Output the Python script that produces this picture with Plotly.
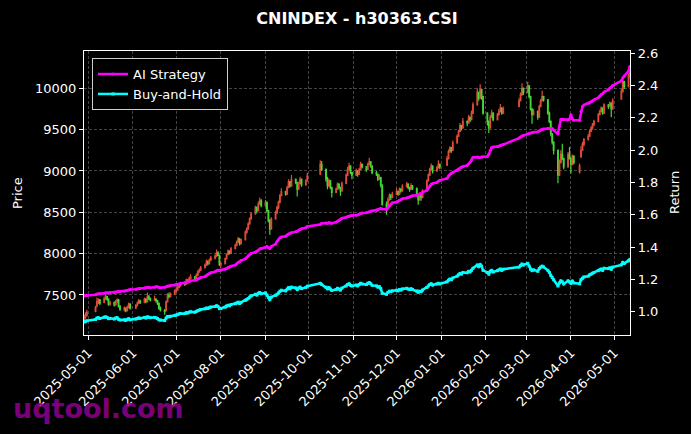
import pandas as pd
import plotly.graph_objects as go

# ---------------- data ----------------
start_date = "2025-04-28"
end_date = "2026-05-12"
holidays = ["2025-05-01", "2025-05-02", "2025-05-05", "2025-06-02",
            "2025-10-01", "2025-10-02", "2025-10-03", "2025-10-06", "2025-10-07", "2025-10-08",
            "2026-01-01", "2026-01-02",
            "2026-02-16", "2026-02-17", "2026-02-18", "2026-02-19", "2026-02-20", "2026-02-23",
            "2026-04-06", "2026-05-01", "2026-05-04", "2026-05-05"]

open_ = [
    7200, 7230, 7250,
    7300, 7370, 7410, 7440, 7410, 7470, 7480, 7450, 7390, 7410, 7380, 7420, 7440, 7360, 7330, 7340, 7310, 7350, 7390,
    7340, 7370, 7400, 7430, 7410, 7450, 7420, 7480, 7460, 7440, 7450, 7430, 7400, 7340, 7310, 7310, 7420, 7500, 7480, 7510,
    7550, 7560, 7590, 7620, 7640, 7630, 7680, 7660, 7700, 7720, 7700, 7740, 7780, 7800, 7830, 7860, 7900, 7880, 7920, 7950, 7970, 8010, 7980,
    7870, 7880, 7940, 7990, 8030, 8010, 8060, 8100, 8140, 8180, 8120, 8170, 8260, 8300, 8360, 8420, 8480, 8560, 8520, 8600, 8640,
    8580, 8620, 8520, 8400, 8300, 8420, 8500, 8560, 8620, 8700, 8750, 8720, 8800, 8870, 8820, 8900, 8860, 8780, 8850, 8900, 8830, 8880,
    8960, 9080, 9020, 8900, 8820, 8880, 8800, 8740, 8780, 8840, 8800, 8760, 8850, 8950, 9020, 9060, 8980,
    8950, 9000, 8960, 9020, 9080, 9050, 9020, 9080, 9110, 9060, 8980, 8960, 8900, 8920, 8830, 8600, 8560, 8650, 8700, 8680,
    8720, 8750, 8720, 8780, 8760, 8810, 8840, 8800, 8780, 8820, 8790, 8720, 8650, 8700, 8680, 8760, 8880, 8950, 9020, 9060, 9000, 9040, 9080,
    9070, 9150, 9230, 9280, 9250, 9340, 9420, 9480, 9550, 9520, 9600, 9580, 9650, 9620, 9700, 9800, 9950, 9880, 9980, 9900,
    9700, 9600, 9520, 9650, 9700, 9620, 9680, 9720, 9760, 9700, 9780, 9850, 9920, 10000,
    9950, 10030, 9900, 9750, 9680, 9720, 9650, 9780, 9850, 9900, 9860, 9700, 9600, 9450, 9350, 9250, 8950, 9100, 9200, 9150, 9050, 9200,
    9150, 9080, 9180, 8990, 9170, 9250, 9320, 9380, 9420, 9480, 9520, 9560, 9600, 9680, 9720, 9760, 9700, 9800, 9780, 9820, 9750,
    9870, 9960, 10080, 10020, 10150,
]
high = [
    7260, 7290, 7320,
    7370, 7470, 7460, 7450, 7480, 7500, 7490, 7460, 7430, 7420, 7440, 7460, 7450, 7380, 7360, 7350, 7370, 7410, 7400,
    7390, 7420, 7450, 7440, 7470, 7460, 7530, 7500, 7470, 7490, 7460, 7440, 7410, 7360, 7330, 7430, 7520, 7530, 7530, 7570,
    7590, 7610, 7640, 7660, 7660, 7700, 7690, 7720, 7750, 7730, 7760, 7800, 7820, 7850, 7880, 7930, 7920, 7940, 7970, 7990, 8050, 8030, 7990,
    7900, 7950, 8000, 8050, 8040, 8080, 8120, 8160, 8200, 8190, 8180, 8280, 8320, 8380, 8440, 8500, 8580, 8570, 8630, 8680, 8660,
    8650, 8630, 8530, 8420, 8440, 8520, 8580, 8640, 8720, 8790, 8760, 8820, 8900, 8880, 8950, 8910, 8870, 8870, 8930, 8910, 8900, 8980,
    9130, 9120, 9030, 8930, 8910, 8890, 8810, 8800, 8860, 8850, 8810, 8870, 8970, 9050, 9100, 9070, 8990,
    9030, 9010, 9040, 9110, 9090, 9060, 9100, 9160, 9120, 9070, 9000, 8970, 8960, 8930, 8840, 8630, 8680, 8730, 8720, 8750,
    8790, 8760, 8800, 8790, 8840, 8870, 8850, 8810, 8850, 8830, 8800, 8730, 8720, 8710, 8780, 8900, 8970, 9040, 9090, 9070, 9060, 9130, 9090,
    9180, 9260, 9300, 9290, 9370, 9440, 9500, 9580, 9560, 9640, 9610, 9680, 9660, 9730, 9830, 10000, 9960, 10050, 9990, 9910,
    9710, 9610, 9680, 9740, 9710, 9700, 9750, 9810, 9770, 9780, 9880, 9950, 10060, 10010,
    10080, 10040, 9910, 9760, 9750, 9730, 9800, 9870, 9970, 9910, 9870, 9720, 9610, 9460, 9360, 9260, 9140, 9250, 9330, 9160, 9230, 9290,
    9160, 9200, 9190, 9090, 9300, 9350, 9400, 9450, 9500, 9540, 9580, 9620, 9700, 9740, 9780, 9770, 9820, 9810, 9840, 9830, 9880,
    9990, 10100, 10090, 10180, 10260,
]
low = [
    7170, 7210, 7240,
    7290, 7350, 7390, 7380, 7400, 7440, 7430, 7370, 7370, 7360, 7370, 7400, 7350, 7310, 7300, 7290, 7300, 7340, 7320,
    7330, 7360, 7390, 7390, 7400, 7400, 7410, 7440, 7420, 7430, 7410, 7380, 7320, 7300, 7260, 7300, 7410, 7460, 7470, 7500,
    7530, 7550, 7580, 7600, 7610, 7620, 7640, 7650, 7690, 7680, 7690, 7730, 7770, 7790, 7820, 7850, 7860, 7870, 7910, 7930, 7960, 7970, 7850,
    7830, 7870, 7930, 7980, 7990, 8000, 8050, 8090, 8130, 8100, 8110, 8160, 8240, 8290, 8350, 8410, 8470, 8490, 8510, 8590, 8560,
    8570, 8500, 8380, 8230, 8290, 8410, 8480, 8540, 8610, 8690, 8700, 8710, 8790, 8800, 8810, 8840, 8690, 8770, 8840, 8810, 8820, 8870,
    8950, 9000, 8870, 8780, 8810, 8780, 8680, 8730, 8770, 8780, 8700, 8750, 8840, 8940, 9010, 8960, 8900,
    8940, 8930, 8950, 9010, 9030, 8990, 9010, 9070, 9040, 8960, 8940, 8880, 8890, 8800, 8580, 8470, 8550, 8640, 8650, 8670,
    8710, 8700, 8710, 8740, 8750, 8800, 8780, 8750, 8770, 8770, 8700, 8590, 8640, 8640, 8670, 8750, 8870, 8940, 9010, 8970, 8990, 9030, 9020,
    9060, 9140, 9220, 9220, 9240, 9330, 9410, 9470, 9490, 9510, 9540, 9570, 9590, 9610, 9690, 9790, 9850, 9870, 9860, 9680,
    9550, 9460, 9510, 9640, 9600, 9610, 9670, 9710, 9680, 9690, 9770, 9840, 9910, 9920,
    9940, 9880, 9730, 9570, 9670, 9620, 9640, 9770, 9840, 9840, 9680, 9580, 9420, 9320, 9200, 8850, 8940, 9090, 9130, 9020, 9040, 9140,
    8970, 9070, 9080, 8970, 9160, 9240, 9300, 9370, 9410, 9470, 9500, 9540, 9590, 9670, 9710, 9680, 9690, 9750, 9770, 9650, 9740,
    9860, 9950, 9990, 10010, 10120,
]
close = [
    7230, 7260, 7290,
    7350, 7420, 7440, 7400, 7460, 7480, 7450, 7390, 7410, 7380, 7420, 7440, 7360, 7330, 7340, 7310, 7350, 7390, 7340,
    7370, 7400, 7430, 7410, 7450, 7420, 7480, 7460, 7440, 7450, 7430, 7400, 7340, 7320, 7300, 7420, 7500, 7480, 7510, 7550,
    7560, 7590, 7620, 7640, 7630, 7680, 7660, 7700, 7720, 7700, 7740, 7780, 7800, 7830, 7860, 7900, 7880, 7920, 7950, 7970, 8010, 7980, 7870,
    7880, 7940, 7990, 8030, 8010, 8060, 8100, 8140, 8180, 8120, 8170, 8260, 8300, 8360, 8420, 8480, 8560, 8520, 8600, 8640, 8580,
    8620, 8520, 8400, 8300, 8420, 8500, 8560, 8620, 8700, 8750, 8720, 8800, 8870, 8820, 8900, 8860, 8780, 8850, 8900, 8830, 8880, 8940,
    9080, 9020, 8900, 8820, 8880, 8800, 8740, 8780, 8840, 8800, 8760, 8850, 8950, 9020, 9060, 8980, 8950,
    9000, 8960, 9020, 9080, 9050, 9020, 9080, 9110, 9060, 8980, 8960, 8900, 8920, 8830, 8600, 8560, 8650, 8700, 8680, 8720,
    8750, 8720, 8780, 8760, 8810, 8840, 8800, 8780, 8820, 8790, 8720, 8650, 8700, 8680, 8760, 8880, 8950, 9020, 9060, 9000, 9040, 9080, 9050,
    9150, 9230, 9280, 9250, 9340, 9420, 9480, 9550, 9520, 9600, 9580, 9650, 9620, 9700, 9800, 9950, 9880, 9980, 9900, 9700,
    9600, 9520, 9650, 9700, 9620, 9680, 9720, 9760, 9700, 9750, 9850, 9920, 10000, 9950,
    10030, 9900, 9750, 9680, 9720, 9650, 9780, 9850, 9900, 9860, 9700, 9600, 9450, 9350, 9250, 8950, 9100, 9200, 9150, 9050, 9200, 9150,
    9080, 9180, 9100, 9060, 9250, 9320, 9380, 9420, 9480, 9520, 9560, 9600, 9680, 9720, 9760, 9700, 9800, 9780, 9820, 9750, 9850,
    9960, 10080, 10020, 10150, 10220,
]
ai_strategy = [
    1.098, 1.100, 1.102,
    1.106, 1.110, 1.112, 1.112, 1.115, 1.118, 1.118, 1.116, 1.118, 1.120, 1.122, 1.125, 1.124, 1.125, 1.128, 1.130, 1.132, 1.136, 1.138,
    1.140, 1.142, 1.145, 1.145, 1.148, 1.150, 1.152, 1.152, 1.150, 1.153, 1.155, 1.155, 1.152, 1.150, 1.152, 1.156, 1.160, 1.160, 1.163, 1.166,
    1.168, 1.170, 1.173, 1.176, 1.178, 1.182, 1.185, 1.188, 1.192, 1.195, 1.198, 1.203, 1.208, 1.212, 1.218, 1.225, 1.232, 1.238, 1.242, 1.248, 1.255, 1.258, 1.256,
    1.258, 1.263, 1.268, 1.274, 1.278, 1.283, 1.290, 1.298, 1.305, 1.310, 1.318, 1.328, 1.338, 1.348, 1.355, 1.362, 1.370, 1.375, 1.382, 1.390, 1.392,
    1.400, 1.405, 1.398, 1.392, 1.405, 1.420, 1.435, 1.448, 1.458, 1.463, 1.468, 1.475, 1.482, 1.486, 1.490, 1.495, 1.498, 1.505, 1.510, 1.515, 1.520, 1.528,
    1.540, 1.548, 1.550, 1.548, 1.552, 1.550, 1.548, 1.555, 1.560, 1.565, 1.572, 1.580, 1.585, 1.590, 1.592, 1.595, 1.596,
    1.598, 1.600, 1.604, 1.608, 1.612, 1.614, 1.616, 1.620, 1.622, 1.625, 1.628, 1.632, 1.636, 1.640, 1.636, 1.634, 1.645, 1.658, 1.666, 1.675,
    1.680, 1.684, 1.690, 1.694, 1.700, 1.705, 1.708, 1.710, 1.714, 1.718, 1.722, 1.726, 1.730, 1.733, 1.740, 1.752, 1.765, 1.778, 1.790, 1.795, 1.800, 1.808, 1.814,
    1.826, 1.840, 1.850, 1.857, 1.862, 1.875, 1.882, 1.890, 1.895, 1.900, 1.906, 1.915, 1.925, 1.940, 1.955, 1.958, 1.955, 1.957, 1.958, 1.960,
    1.962, 1.975, 2.000, 2.017, 2.020, 2.022, 2.025, 2.030, 2.032, 2.035, 2.075, 2.082, 2.088, 2.092,
    2.100, 2.104, 2.106, 2.108, 2.112, 2.115, 2.120, 2.125, 2.130, 2.132, 2.134, 2.134, 2.133, 2.134, 2.125, 2.100, 2.150, 2.190, 2.192, 2.190, 2.188, 2.192,
    2.220, 2.195, 2.185, 2.185, 2.240, 2.270, 2.280, 2.290, 2.292, 2.300, 2.305, 2.312, 2.325, 2.335, 2.345, 2.350, 2.360, 2.375, 2.385, 2.388, 2.400,
    2.430, 2.448, 2.460, 2.490, 2.520,
]
buy_and_hold = [
    0.937, 0.941, 0.945,
    0.953, 0.962, 0.964, 0.959, 0.967, 0.969, 0.966, 0.958, 0.960, 0.956, 0.962, 0.964, 0.954, 0.950, 0.951, 0.947, 0.953, 0.958, 0.951,
    0.955, 0.959, 0.963, 0.960, 0.966, 0.962, 0.969, 0.967, 0.964, 0.966, 0.963, 0.959, 0.951, 0.949, 0.946, 0.962, 0.972, 0.969, 0.973, 0.978,
    0.980, 0.984, 0.988, 0.990, 0.989, 0.995, 0.993, 0.998, 1.001, 0.998, 1.003, 1.008, 1.011, 1.015, 1.019, 1.024, 1.021, 1.026, 1.030, 1.033, 1.038, 1.034, 1.020,
    1.021, 1.029, 1.036, 1.041, 1.038, 1.045, 1.050, 1.055, 1.060, 1.052, 1.059, 1.071, 1.076, 1.083, 1.091, 1.099, 1.109, 1.104, 1.115, 1.120, 1.112,
    1.117, 1.104, 1.089, 1.076, 1.091, 1.102, 1.109, 1.117, 1.128, 1.134, 1.130, 1.141, 1.150, 1.143, 1.153, 1.148, 1.138, 1.147, 1.153, 1.144, 1.151, 1.159,
    1.177, 1.169, 1.153, 1.143, 1.151, 1.141, 1.133, 1.138, 1.146, 1.141, 1.135, 1.147, 1.160, 1.169, 1.174, 1.164, 1.160,
    1.166, 1.161, 1.169, 1.177, 1.173, 1.169, 1.177, 1.181, 1.174, 1.164, 1.161, 1.153, 1.156, 1.144, 1.115, 1.109, 1.121, 1.128, 1.125, 1.130,
    1.134, 1.130, 1.138, 1.135, 1.142, 1.146, 1.141, 1.138, 1.143, 1.139, 1.130, 1.121, 1.128, 1.125, 1.135, 1.151, 1.160, 1.169, 1.174, 1.166, 1.172, 1.177, 1.173,
    1.186, 1.196, 1.203, 1.199, 1.210, 1.221, 1.229, 1.238, 1.234, 1.244, 1.242, 1.251, 1.247, 1.257, 1.270, 1.290, 1.280, 1.293, 1.283, 1.257,
    1.244, 1.234, 1.251, 1.257, 1.247, 1.255, 1.260, 1.265, 1.257, 1.264, 1.277, 1.286, 1.296, 1.290,
    1.300, 1.283, 1.264, 1.255, 1.260, 1.251, 1.268, 1.277, 1.283, 1.278, 1.257, 1.244, 1.225, 1.212, 1.199, 1.160, 1.179, 1.192, 1.186, 1.173, 1.192, 1.186,
    1.177, 1.190, 1.179, 1.174, 1.199, 1.208, 1.216, 1.221, 1.229, 1.234, 1.239, 1.244, 1.255, 1.260, 1.265, 1.257, 1.270, 1.268, 1.273, 1.264, 1.277,
    1.291, 1.306, 1.299, 1.315, 1.325,
]
price_ticks = [7500, 8000, 8500, 9000, 9500, 10000]
return_ticks = [1.0, 1.2, 1.4, 1.6, 1.8, 2.0, 2.2, 2.4, 2.6]

dates = pd.bdate_range(start_date, end_date)
dates = dates[~dates.isin(pd.to_datetime(holidays))]
n = len(dates)
for arr in (open_, high, low, close, ai_strategy, buy_and_hold):
    assert len(arr) == n, (len(arr), n)

# ---------------- figure ----------------
FONT = "DejaVu Sans"
fig = go.Figure()
fig.add_trace(go.Candlestick(
    x=dates, open=open_, high=high, low=low, close=close,
    increasing=dict(line=dict(color="#f4553f", width=1.2), fillcolor="#f4553f"),
    decreasing=dict(line=dict(color="#4cf03a", width=1.2), fillcolor="#4cf03a"),
    opacity=0.9, showlegend=False, yaxis="y",
))
fig.add_trace(go.Scatter(
    x=dates, y=ai_strategy, name="AI Strategy", mode="lines+markers",
    line=dict(color="#ff00ff", width=2.5), marker=dict(symbol="circle", size=3, color="#ff00ff"),
    yaxis="y2",
))
fig.add_trace(go.Scatter(
    x=dates, y=buy_and_hold, name="Buy-and-Hold", mode="lines+markers",
    line=dict(color="#00ffff", width=2.5), marker=dict(symbol="square", size=3, color="#00ffff"),
    yaxis="y2",
))

axis_common = dict(showline=True, linecolor="white", linewidth=1.2, ticks="outside",
                   ticklen=4, tickcolor="white", tickfont=dict(family=FONT, size=13, color="white"))

fig.update_layout(
    width=691, height=434,
    paper_bgcolor="black", plot_bgcolor="black",
    margin=dict(l=84, r=61, t=51, b=99, autoexpand=False),
    font=dict(family=FONT, color="white", size=13),
    title=dict(text="<b>CNINDEX - h30363.CSI</b>", x=0.5, xref="paper", xanchor="center",
               y=1 - 18 / 434, yref="container", yanchor="middle",
               font=dict(family=FONT, size=16, color="white")),
    xaxis=dict(type="date", range=["2025-04-28", "2026-05-12"],
               tick0="2025-05-01", dtick="M1", tickformat="%Y-%m-%d", tickangle=-45,
               showgrid=True, gridcolor="rgba(150,150,150,0.45)", gridwidth=0.7, griddash="3px,2px",
               mirror=True, rangeslider=dict(visible=False), zeroline=False, **axis_common),
    yaxis=dict(range=[7016, 10451], tickvals=price_ticks, ticktext=[str(v) for v in price_ticks],
               showgrid=True, gridcolor="rgba(150,150,150,0.45)", gridwidth=0.7, griddash="3px,2px",
               zeroline=False, **axis_common),
    yaxis2=dict(range=[0.857, 2.614], tickvals=return_ticks, ticktext=[f"{v:.1f}" for v in return_ticks],
                overlaying="y", side="right", showgrid=False, zeroline=False, **axis_common),
    legend=dict(x=0.0147, y=0.975, xanchor="left", yanchor="top", bgcolor="black",
                bordercolor="#cfcfcf", borderwidth=1, itemwidth=30,
                font=dict(family=FONT, size=13, color="white")),
)

fig.add_annotation(text="Price", x=(17 - 84) / 546, y=0.5, xref="paper", yref="paper",
                   xanchor="center", yanchor="middle",
                   textangle=-90, showarrow=False, font=dict(family=FONT, size=13, color="white"))
fig.add_annotation(text="Return", x=(674 - 84) / 546, y=0.5, xref="paper", yref="paper",
                   xanchor="center", yanchor="middle",
                   textangle=-90, showarrow=False, font=dict(family=FONT, size=13, color="white"))
fig.add_annotation(text="<b>uqtool.com</b>", x=(11 - 84) / 546, y=(335 - 408) / 284,
                   xref="paper", yref="paper", xanchor="left", yanchor="middle", showarrow=False,
                   font=dict(family=FONT, size=27, color="rgba(140,0,140,0.88)"))

fig.write_html("out.html")
